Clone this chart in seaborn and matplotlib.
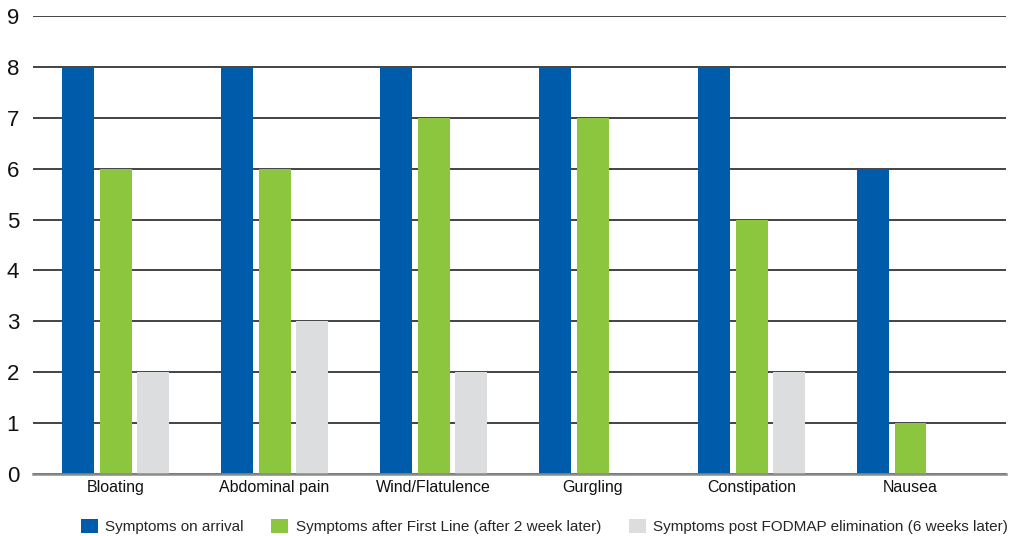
import pandas as pd
import matplotlib.pyplot as plt
import seaborn as sns
from matplotlib.patches import Patch

categories = ["Bloating", "Abdominal pain", "Wind/Flatulence", "Gurgling", "Constipation", "Nausea"]
series = [
    "Symptoms on arrival",
    "Symptoms after First Line (after 2 week later)",
    "Symptoms post FODMAP elimination (6 weeks later)",
]
on_arrival = [8, 8, 8, 8, 8, 6]
first_line = [6, 6, 7, 7, 5, 1]
post_fodmap = [2, 3, 2, 0, 2, 0]
colors = ["#005BAA", "#8CC63F", "#DCDDDE"]

df = pd.DataFrame({
    "category": categories * 3,
    "series": [series[0]] * 6 + [series[1]] * 6 + [series[2]] * 6,
    "value": on_arrival + first_line + post_fodmap,
})

sns.set_style("white")
plt.rcParams["font.family"] = ["Liberation Sans Narrow", "Liberation Sans", "DejaVu Sans"]

fig = plt.figure(figsize=(10.14, 5.36), dpi=100)
ax = fig.add_axes([0.0325, 0.1157, 0.9595, 0.8543])

sns.barplot(
    data=df, x="category", y="value", hue="series",
    palette=colors, width=0.71, gap=0.15, saturation=1, linewidth=0,
    order=categories, hue_order=series, legend=False, ax=ax, zorder=3,
)

ax.set_ylim(0, 9)
ax.set_yticks(range(0, 10))
ax.set_xlim(-0.52, len(categories) - 0.4)
ax.yaxis.grid(True, color="#111111", linewidth=1.1, zorder=0)
ax.set_axisbelow(True)
for s in ["left", "right", "top"]:
    ax.spines[s].set_visible(False)
ax.spines["bottom"].set_color("#8a8a8a")
ax.spines["bottom"].set_linewidth(1.8)
ax.spines["bottom"].set_zorder(4)
ax.tick_params(axis="y", length=0, labelsize=16, pad=10, labelcolor="#111111")
ax.tick_params(axis="x", length=0, labelsize=11.5, pad=4, labelcolor="#111111")
ax.set_xlabel("")
ax.set_ylabel("")

handles = [Patch(facecolor=c, edgecolor="none") for c in colors]
fig.legend(
    handles, series, loc="lower center", bbox_to_anchor=(0.537, -0.022),
    ncol=3, frameon=False, fontsize=11, handlelength=1.1, handleheight=1.1,
    handletextpad=0.5, columnspacing=1.8,
)

fig.savefig("out.png", dpi=100)
